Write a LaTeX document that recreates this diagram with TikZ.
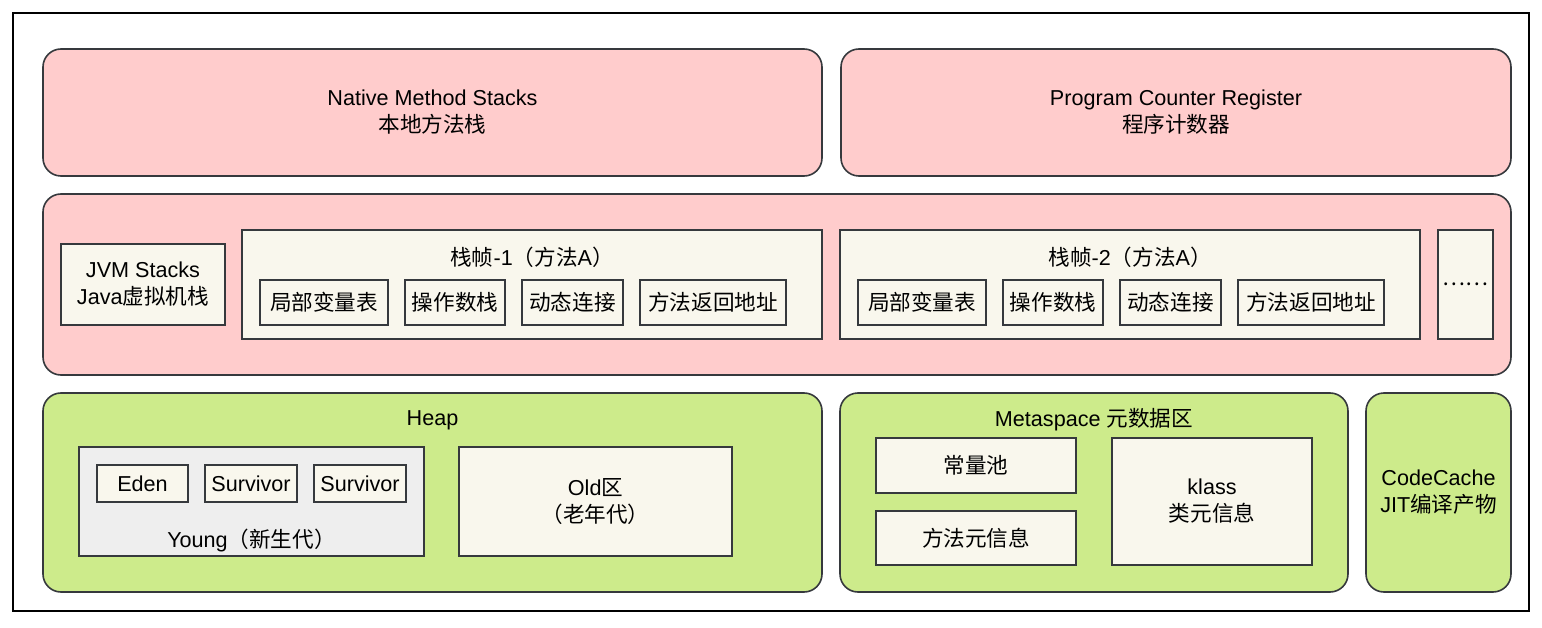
\documentclass[tikz,border=0pt]{standalone}
\usepackage{fontspec}
\setmainfont{Liberation Sans}
\newfontfamily\cjk{Noto Sans CJK SC}
\definecolor{pinkC}{HTML}{FFCCCC}
\definecolor{creamC}{HTML}{F9F7ED}
\definecolor{greenC}{HTML}{CDEB8B}
\definecolor{grayC}{HTML}{EEEEEE}
\definecolor{strokeC}{HTML}{36393D}
\begin{document}
\begin{tikzpicture}[x=1pt,y=-1pt,
  every node/.style={font=\fontsize{21.6}{27}\selectfont, align=center, inner sep=0pt},
  pinkbox/.style={rectangle, rounded corners=18pt, fill=pinkC, draw=strokeC, line width=1.6pt},
  greenbox/.style={rectangle, rounded corners=18pt, fill=greenC, draw=strokeC, line width=1.6pt},
  creambox/.style={rectangle, fill=creamC, draw=strokeC, line width=1.6pt},
  graybox/.style={rectangle, fill=grayC, draw=strokeC, line width=1.6pt},
  sz/.style 2 args={minimum width=#1pt, minimum height=#2pt}]
\useasboundingbox (0,0) rectangle (1542,628);
\draw[line width=1.6pt, black] (13,13) rectangle (1529,611);

% row 1
\node[pinkbox, sz={779}{127}] (native) at (432.5,112.5) {Native Method Stacks\\{\cjk 本地方法栈}};
\node[pinkbox, sz={670}{127}] (pcr) at (1176,112.5) {Program Counter Register\\{\cjk 程序计数器}};

% row 2
\node[pinkbox, sz={1468}{181}] (jvm) at (777,284.5) {};
\node[creambox, sz={164}{81}] (jvmlabel) at (143,284.5) {JVM Stacks\\Java{\cjk 虚拟机栈}};
\node[creambox, sz={580}{109}] (f1) at (532,284.5) {};
\node (f1t) at (532,257) {{\cjk 栈帧}-1{\cjk （方法}A{\cjk ）}};
\node[creambox, sz={128}{45}] (f1a) at (324,302.5) {\cjk 局部变量表};
\node[creambox, sz={100}{45}] (f1b) at (455,302.5) {\cjk 操作数栈};
\node[creambox, sz={101}{45}] (f1c) at (572.5,302.5) {\cjk 动态连接};
\node[creambox, sz={146}{45}] (f1d) at (713,302.5) {\cjk 方法返回地址};
\node[creambox, sz={580}{109}] (f2) at (1130,284.5) {};
\node (f2t) at (1130,257) {{\cjk 栈帧}-2{\cjk （方法}A{\cjk ）}};
\node[creambox, sz={128}{45}] (f2a) at (922,302.5) {\cjk 局部变量表};
\node[creambox, sz={100}{45}] (f2b) at (1053,302.5) {\cjk 操作数栈};
\node[creambox, sz={101}{45}] (f2c) at (1170.5,302.5) {\cjk 动态连接};
\node[creambox, sz={146}{45}] (f2d) at (1311,302.5) {\cjk 方法返回地址};
\node[creambox, sz={55}{109}] (more) at (1465.5,284.5) {\cjk ……};

% row 3
\node[greenbox, sz={779}{199}] (heap) at (432.5,492.5) {};
\node (heapt) at (432.5,420) {Heap};
\node[graybox, sz={345}{109}] (young) at (251.5,501.5) {};
\node[creambox, sz={91}{37}] (eden) at (142.5,483.5) {Eden};
\node[creambox, sz={92}{37}] (s1) at (251,483.5) {Survivor};
\node[creambox, sz={92}{37}] (s2) at (360,483.5) {Survivor};
\node (youngt) at (251.5,540) {Young{\cjk （新生代）}};
\node[creambox, sz={273}{109}] (old) at (595.5,501.5) {Old{\cjk 区}\\{\cjk （老年代）}};

\node[greenbox, sz={508}{199}] (meta) at (1094,492.5) {};
\node (metat) at (1094,420) {Metaspace {\cjk 元数据区}};
\node[creambox, sz={200}{55}] (pool) at (976,465.5) {\cjk 常量池};
\node[creambox, sz={200}{54}] (minfo) at (976,538) {\cjk 方法元信息};
\node[creambox, sz={200}{127}] (klass) at (1212,501.5) {klass\\{\cjk 类元信息}};

\node[greenbox, sz={145}{199}] (cc) at (1438.5,492.5) {CodeCache\\JIT{\cjk 编译产物}};
\end{tikzpicture}
\end{document}
